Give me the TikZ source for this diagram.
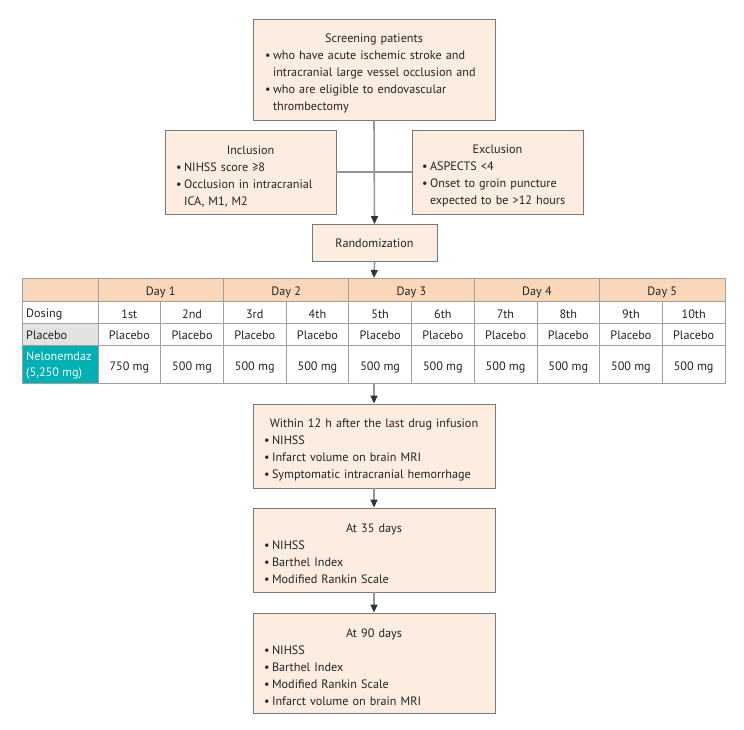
\documentclass[tikz,border=0pt]{standalone}
\usepackage{fontspec}
\setmainfont{PT Sans}
\usetikzlibrary{arrows.meta}
\hyphenpenalty=10000
\exhyphenpenalty=10000
\definecolor{boxfill}{RGB}{253,237,224}
\definecolor{hdrfill}{RGB}{251,215,186}
\definecolor{tealc}{RGB}{0,176,178}
\definecolor{grayfill}{RGB}{226,226,226}
\definecolor{edgec}{RGB}{120,120,120}
\definecolor{gridc}{RGB}{160,160,160}
\definecolor{connc}{RGB}{150,150,150}
\definecolor{txtc}{RGB}{35,35,35}
\newenvironment{blist}{\begin{list}{\textbullet}{\setlength{\leftmargin}{8pt}%
  \setlength{\labelwidth}{6pt}\setlength{\labelsep}{2pt}\setlength{\itemindent}{0pt}%
  \setlength{\itemsep}{0pt}\setlength{\parsep}{0pt}\setlength{\topsep}{0pt}%
  \setlength{\partopsep}{0pt}\setlength{\rightmargin}{0pt}%
  \renewcommand{\makelabel}[1]{##1\hfil}}\raggedright}{\end{list}}
\newcommand{\boxtitle}[1]{{\centering\rule{0pt}{17pt}#1\par}}
\newcommand{\boxfont}{\fontsize{12.2}{17}\selectfont}
\newcommand{\cellfont}{\fontsize{12.2}{16}\selectfont}
\tikzset{
  flowbox/.style={draw=edgec, line width=0.9pt, fill=boxfill, text=txtc,
    align=left, inner ysep=2pt, font=\boxfont},
  cell/.style={text=txtc, inner sep=0pt, font=\cellfont},
  conn/.style={draw=connc, line width=1.6pt},
  arr/.style={conn, -{Triangle[length=8pt,width=7pt,color=black!80]}},
}
\begin{document}
\begin{tikzpicture}[x=1pt,y=-1pt]
\useasboundingbox (0,0) rectangle (744,730);

% boxes
\node[flowbox, text width=218pt, inner xsep=12pt, minimum height=101pt] (scr) at (374,69.5)
 {\boxtitle{Screening patients}\begin{blist}\item who have acute ischemic stroke and intracranial large vessel occlusion and\item who are eligible to endovascular thrombectomy\end{blist}};
\node[flowbox, text width=149pt, inner xsep=11pt, minimum height=84pt] (incl) at (250.5,172)
 {\boxtitle{Inclusion}\begin{blist}\item NIHSS score ≥8\item Occlusion in intracranial ICA, M1, M2\end{blist}};
\node[flowbox, text width=151pt, inner xsep=10pt, minimum height=84pt] (excl) at (497.5,172)
 {\boxtitle{Exclusion}\begin{blist}\item ASPECTS <4\item Onset to groin puncture expected to be >12 hours\end{blist}};
\node[flowbox, align=center, minimum width=125pt, minimum height=37pt] (rand) at (374.5,243) {Randomization};

\node[flowbox, text width=220pt, inner xsep=11pt, minimum height=84pt] (within) at (374,446)
 {\boxtitle{Within 12 h after the last drug infusion}\begin{blist}\item NIHSS\item Infarct volume on brain MRI\item Symptomatic intracranial hemorrhage\end{blist}};
\node[flowbox, text width=220pt, inner xsep=11pt, minimum height=84pt] (d35) at (374,550)
 {\boxtitle{At 35 days}\begin{blist}\item NIHSS\item Barthel Index\item Modified Rankin Scale\end{blist}};
\node[flowbox, text width=220pt, inner xsep=11pt, minimum height=100pt] (d90) at (374,663)
 {\boxtitle{At 90 days}\begin{blist}\item NIHSS\item Barthel Index\item Modified Rankin Scale\item Infarct volume on brain MRI\end{blist}};

% table
\def\cw{62.7}
\fill[hdrfill] (22,278) rectangle (725,301);
\fill[grayfill] (22,323) rectangle (98,345);
\fill[tealc] (22,345) rectangle (98,383);
\foreach \yy in {301,323,345} \draw[gridc, line width=0.8pt] (22,\yy) -- (725,\yy);
\draw[gridc, line width=0.8pt] (98,278) -- (98,383);
\foreach \k in {2,4,6,8} \draw[gridc, line width=0.8pt] (98+\k*\cw,278) -- (98+\k*\cw,383);
\foreach \k in {1,3,5,7,9} \draw[gridc, line width=0.8pt] (98+\k*\cw,301) -- (98+\k*\cw,383);
\draw[gridc, line width=0.9pt] (22,278) rectangle (725,383);
\coordinate (ttop) at (374,278);
\coordinate (tbot) at (374,383);

\foreach \d in {1,...,5} \node[cell] (day\d) at (98+2*\d*\cw-\cw,292) {Day \d};
\foreach \lab [count=\k] in {1st,2nd,3rd,4th,5th,6th,7th,8th,9th,10th}
  \node[cell] (dose\k) at (98+\k*\cw-0.5*\cw,314.5) {\lab};
\foreach \k in {1,...,10} \node[cell] (plac\k) at (98+\k*\cw-0.5*\cw,335.5) {Placebo};
\node[cell] (nel1) at (98+0.5*\cw,367) {750 mg};
\foreach \k in {2,...,10} \node[cell] (nel\k) at (98+\k*\cw-0.5*\cw,367) {500 mg};
\node[cell, anchor=west] (ldos) at (26,314.5) {Dosing};
\node[cell, anchor=west] (lpla) at (26,335.5) {Placebo};
\node[cell, anchor=west, text=white, align=left] (lnel) at (26,366) {Nelonemdaz\\(5,250 mg)};

% connectors
\draw[conn] (incl.east) -- (excl.west);
\draw[arr] (scr.south) -- (rand.north);
\draw[arr] (rand.south) -- (ttop);
\draw[arr] (tbot) -- (within.north);
\draw[arr] (within.south) -- (d35.north);
\draw[arr] (d35.south) -- (d90.north);
\end{tikzpicture}
\end{document}
